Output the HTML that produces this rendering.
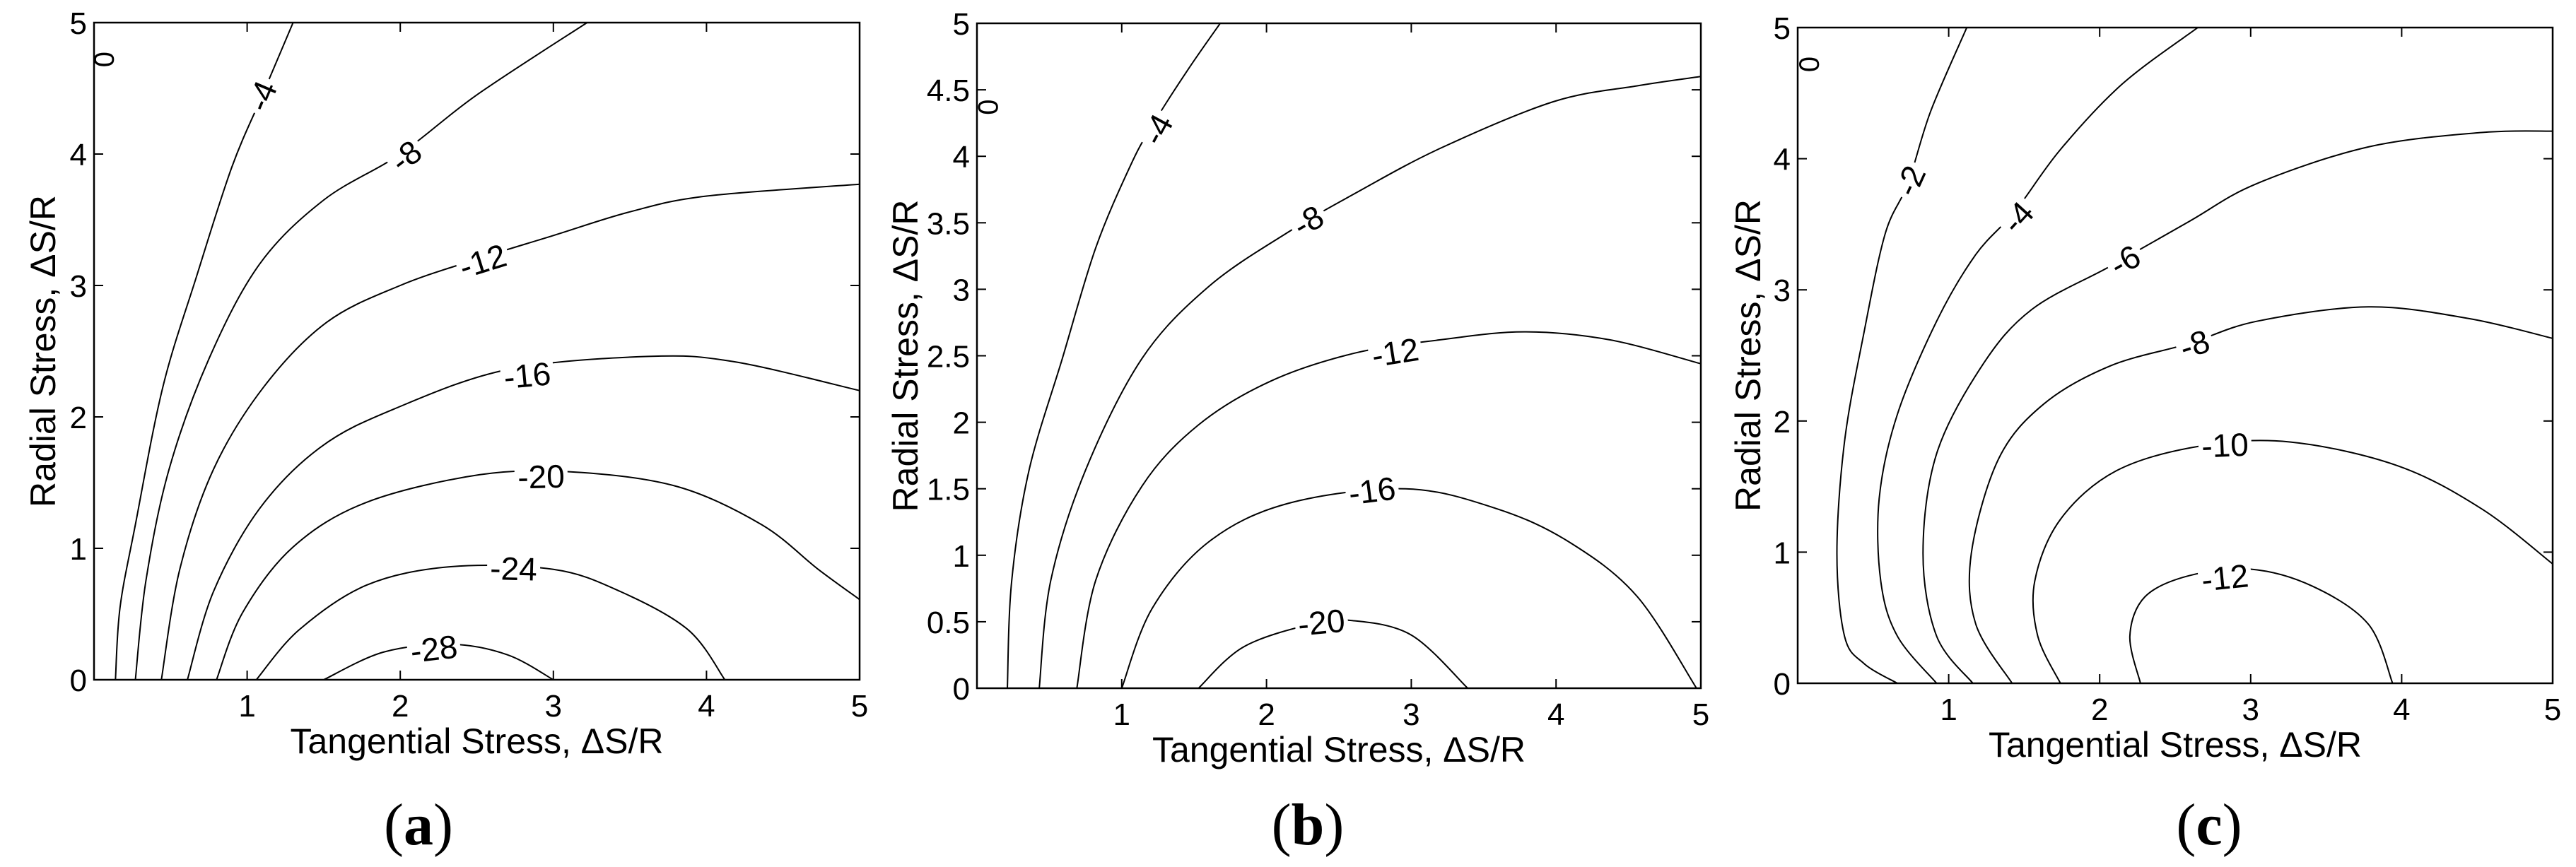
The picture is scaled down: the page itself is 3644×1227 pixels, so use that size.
<!DOCTYPE html>
<html><head><meta charset="utf-8"><style>
html,body{margin:0;padding:0;background:#fff;}
svg{display:block;font-family:"Liberation Sans",Arial,sans-serif;}
</style></head><body>
<svg id="fig" width="3644" height="1227" viewBox="0 0 3644 1227" xmlns="http://www.w3.org/2000/svg"></svg>
<script>
// ---- Panel (a) data ----
const aXTicks = [1,2,3,4,5];
const aYTicks = [0,1,2,3,4,5];
const aLevels = [-4,-8,-12,-16,-20,-24,-28];
const aContours = [
 [[0.14,0],[0.17,0.55],[0.27,1.18],[0.45,2.23],[0.67,3.07],[0.90,3.9],[1.10,4.45],[1.30,5.0]],
 [[0.27,0],[0.34,0.76],[0.49,1.6],[0.75,2.44],[1.08,3.16],[1.5,3.65],[2.0,4.0],[2.5,4.45],[3.22,5.0]],
 [[0.44,0],[0.56,0.84],[0.78,1.6],[1.11,2.23],[1.52,2.72],[2.0,3.0],[2.5,3.2],[3.0,3.38],[3.5,3.56],[4.0,3.68],[5.0,3.77]],
 [[0.61,0],[0.78,0.67],[1.08,1.3],[1.48,1.77],[1.96,2.06],[2.70,2.36],[3.62,2.46],[4.18,2.42],[5.0,2.20]],
 [[0.80,0],[0.97,0.51],[1.30,1.01],[1.78,1.35],[2.52,1.56],[3.14,1.58],[3.81,1.47],[4.36,1.18],[4.73,0.84],[5.0,0.61]],
 [[1.06,0],[1.34,0.38],[1.78,0.72],[2.33,0.86],[3.0,0.84],[3.44,0.67],[3.88,0.38],[4.12,0]],
 [[1.50,0],[1.89,0.21],[2.33,0.27],[2.70,0.19],[3.0,0]]
];
const aLabelPos = [[1.10,4.44],[2.04,3.98],[2.54,3.18],[2.83,2.31],[2.92,1.54],[2.74,0.84],[2.22,0.23]];

// ---- Panel (b) data ----
const bXTicks = [1,2,3,4,5];
const bYTicks = [0,0.5,1,1.5,2,2.5,3,3.5,4,4.5,5];
const bLevels = [-4,-8,-12,-16,-20];
const bContours = [
 [[0.21,0],[0.24,0.81],[0.36,1.64],[0.59,2.48],[0.82,3.31],[1.06,3.93],[1.21,4.23],[1.45,4.64],[1.68,5.0]],
 [[0.43,0],[0.51,0.81],[0.75,1.64],[1.14,2.48],[1.60,3.02],[2.15,3.43],[2.61,3.72],[3.20,4.06],[3.98,4.41],[4.56,4.53],[5.0,4.6]],
 [[0.69,0],[0.82,0.81],[1.14,1.52],[1.53,1.98],[2.03,2.31],[2.61,2.52],[3.20,2.62],[3.78,2.68],[4.37,2.62],[5.0,2.44]],
 [[1.0,0],[1.21,0.60],[1.60,1.10],[2.15,1.39],[2.96,1.50],[3.59,1.35],[4.09,1.10],[4.56,0.69],[4.97,0]],
 [[1.53,0],[1.84,0.31],[2.30,0.48],[2.58,0.51],[3.0,0.40],[3.39,0]]
];
const bLabelPos = [[1.25,4.2],[2.29,3.51],[2.89,2.52],[2.73,1.48],[2.38,0.49]];

// ---- Panel (c) data ----
const cXTicks = [1,2,3,4,5];
const cYTicks = [0,1,2,3,4,5];
const cLevels = [-2,-4,-6,-8,-10,-12];
const cContours = [
 [[0.66,0],[0.44,0.15],[0.31,0.36],[0.26,0.99],[0.31,1.84],[0.44,2.68],[0.58,3.43],[0.73,3.81],[0.88,4.36],[1.12,5.0]],
 [[0.92,0],[0.66,0.36],[0.55,0.78],[0.54,1.41],[0.66,2.05],[0.92,2.76],[1.18,3.27],[1.44,3.60],[1.74,4.07],[2.15,4.57],[2.65,5.0]],
 [[1.16,0],[0.92,0.36],[0.83,0.99],[0.92,1.75],[1.22,2.42],[1.55,2.85],[2.07,3.18],[2.59,3.52],[3.04,3.81],[3.78,4.09],[4.53,4.20],[5.0,4.21]],
 [[1.42,0],[1.18,0.45],[1.15,0.99],[1.33,1.71],[1.63,2.13],[2.07,2.42],[2.59,2.59],[3.04,2.76],[3.78,2.87],[4.45,2.78],[5.0,2.63]],
 [[1.74,0],[1.59,0.36],[1.57,0.78],[1.74,1.25],[2.11,1.62],[2.67,1.81],[3.26,1.84],[3.97,1.66],[4.53,1.33],[5.0,0.91]],
 [[2.27,0],[2.20,0.36],[2.30,0.66],[2.59,0.82],[3.0,0.87],[3.41,0.74],[3.78,0.45],[3.94,0]]
];
const cLabelPos = [[0.75,3.83],[1.46,3.55],[2.17,3.22],[2.63,2.58],[2.83,1.81],[2.83,0.80]];

const NS = 'http://www.w3.org/2000/svg';
const svg = document.getElementById('fig');
function mk(tag, attrs, parent){
  const e = document.createElementNS(NS, tag);
  for (const k in attrs) e.setAttribute(k, attrs[k]);
  (parent||svg).appendChild(e);
  return e;
}
function smoothPath(P){
  let d = 'M' + P[0][0].toFixed(1) + ',' + P[0][1].toFixed(1);
  for (let i = 0; i < P.length-1; i++){
    const p0 = P[Math.max(0,i-1)], p1 = P[i], p2 = P[i+1], p3 = P[Math.min(P.length-1,i+2)];
    const c1x = p1[0] + (p2[0]-p0[0])/6, c1y = p1[1] + (p2[1]-p0[1])/6;
    const c2x = p2[0] - (p3[0]-p1[0])/6, c2y = p2[1] - (p3[1]-p1[1])/6;
    d += ' C' + c1x.toFixed(1)+','+c1y.toFixed(1)+' '+c2x.toFixed(1)+','+c2y.toFixed(1)+' '+p2[0].toFixed(1)+','+p2[1].toFixed(1);
  }
  return d;
}
function drawPanel(id, box, xTicks, yTicks, levels, contours, labelPos, zeroPos, ytitleX, captionX, caption){
  const g = mk('g', {});
  
  
  const sx = v => box.x0 + (v/5)*(box.x1-box.x0);
  const sy = v => box.y1 - (v/5)*(box.y1-box.y0);
  const clipId = 'clip-' + id;
  const cp0 = mk('clipPath', {id: clipId}, g);
  mk('rect', {x: box.x0, y: box.y0, width: box.x1-box.x0, height: box.y1-box.y0}, cp0);
  const cg = mk('g', {'clip-path': 'url(#' + clipId + ')'}, g);
  contours.forEach((pts, i) => {
    const P = pts.map(q => [sx(q[0]), sy(q[1])]);
    const p = mk('path', {d: smoothPath(P), fill:'none', stroke:'#000', 'stroke-width':2, 'stroke-linejoin':'round'}, cg);
    
    
  });
  labelPos.forEach((lp, i) => {
    const pts = contours[i];
    let best = 0, bd = 1e9;
    for (let k = 0; k < pts.length-1; k++){
      const mx = (pts[k][0]+pts[k+1][0])/2, my = (pts[k][1]+pts[k+1][1])/2;
      const d = (mx-lp[0])**2 + (my-lp[1])**2;
      if (d < bd){ bd = d; best = k; }
    }
    const dx = sx(pts[best+1][0]) - sx(pts[best][0]);
    const dy = sy(pts[best+1][1]) - sy(pts[best][1]);
    let ang = Math.atan2(dy, dx)*180/Math.PI;
    if (ang > 90) ang -= 180;
    if (ang < -90) ang += 180;
    const cx = sx(lp[0]), cy = sy(lp[1]);
    const lg = mk('g', {transform: 'translate('+cx.toFixed(1)+','+cy.toFixed(1)+') rotate('+ang.toFixed(1)+')'}, g);
    
    
    const txt = String(levels[i]);
    const w = txt.length*23 + 6;
    mk('rect', {x: -w/2, y: -20, width: w, height: 40, fill: '#fff'}, lg);
    const t = mk('text', {x: 0, y: 15, 'font-size': 46, 'text-anchor': 'middle', fill: '#000'}, lg);
    t.textContent = txt;
  });
  const z = mk('text', {x: 0, y: 0, 'font-size': 40, 'text-anchor': 'middle', transform: 'translate('+(sx(zeroPos[0])-4)+','+sy(zeroPos[1])+') rotate(90)'}, g);
  
  
  z.textContent = '0';
  const fr = mk('rect', {x: box.x0, y: box.y0, width: box.x1-box.x0, height: box.y1-box.y0, fill: 'none', stroke: '#000', 'stroke-width': 2.5}, g);
  
  
  const TL = 13;
  xTicks.forEach(v => {
    const x = sx(v);
    mk('line', {x1:x, y1:box.y1, x2:x, y2:box.y1-TL, stroke:'#000','stroke-width':2}, g);
    mk('line', {x1:x, y1:box.y0, x2:x, y2:box.y0+TL, stroke:'#000','stroke-width':2}, g);
    const t = mk('text', {x:x, y:box.y1+52, 'font-size':44, 'text-anchor':'middle'}, g);
    
    
    t.textContent = String(v);
  });
  yTicks.forEach(v => {
    const y = sy(v);
    mk('line', {x1:box.x0, y1:y, x2:box.x0+TL, y2:y, stroke:'#000','stroke-width':2}, g);
    mk('line', {x1:box.x1, y1:y, x2:box.x1-TL, y2:y, stroke:'#000','stroke-width':2}, g);
    const t = mk('text', {x:box.x0-10, y:y+16, 'font-size':44, 'text-anchor':'end'}, g);
    
    
    t.textContent = String(v);
  });
  const xt = mk('text', {x:(box.x0+box.x1)/2, y:box.y1+104, 'font-size':50, 'text-anchor':'middle'}, g);
  
  
  xt.textContent = 'Tangential Stress,  \u0394S/R';
  const ymid = (box.y0+box.y1)/2;
  const yt = mk('text', {x:0, y:0, 'font-size':50, 'text-anchor':'middle', transform:'translate('+(ytitleX+18)+','+ymid+') rotate(-90)'}, g);
  
  
  yt.textContent = 'Radial Stress,  \u0394S/R';
  const cp = mk('text', {x:captionX, y:1195, 'font-size':84, 'text-anchor':'middle', 'font-family':'"Liberation Serif", serif'}, g);
  
  
  cp.appendChild(document.createTextNode('('));
  const b = mk('tspan', {'font-weight':'bold'}, cp);
  b.textContent = caption;
  cp.appendChild(document.createTextNode(')'));
}
drawPanel('a', {x0:133, x1:1216, y0:32, y1:962}, aXTicks, aYTicks, aLevels, aContours, aLabelPos, [0.02,4.72], 60, 592, 'a');
drawPanel('b', {x0:1382, x1:2406, y0:33, y1:974}, bXTicks, bYTicks, bLevels, bContours, bLabelPos, [0.03,4.37], 1280, 1850, 'b');
drawPanel('c', {x0:2543, x1:3611, y0:39, y1:967}, cXTicks, cYTicks, cLevels, cContours, cLabelPos, [0.03,4.72], 2472, 3125, 'c');
</script>
</body></html>
